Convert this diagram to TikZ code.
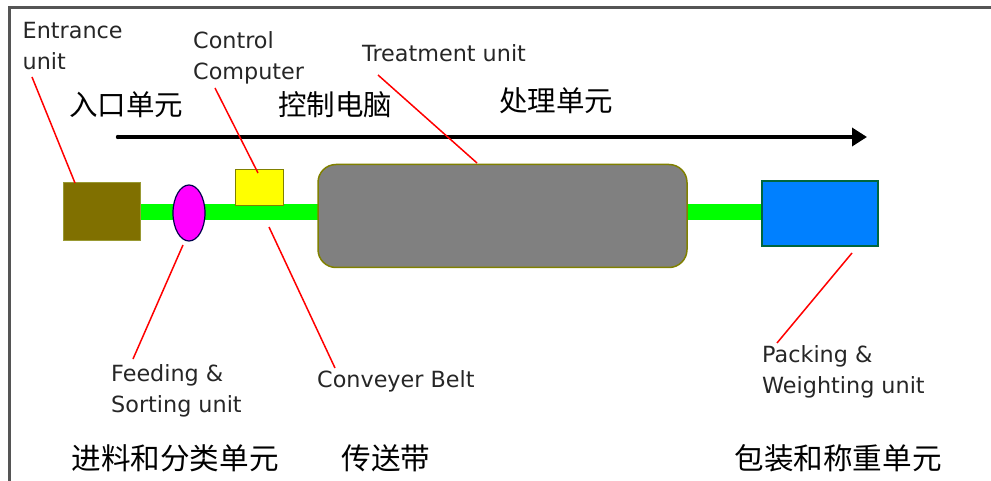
\documentclass[tikz,border=0pt]{standalone}
\usepackage{fontspec}
\setmainfont{DejaVu Sans}
\newfontfamily\cjk{Noto Sans CJK SC}
\usetikzlibrary{arrows.meta,shapes.geometric}
\definecolor{olivebox}{RGB}{128,112,0}
\definecolor{oliveline}{RGB}{128,128,0}
\definecolor{beltgreen}{RGB}{0,255,0}
\definecolor{blueunit}{RGB}{0,128,255}
\definecolor{framegray}{RGB}{85,85,85}
\definecolor{feedpink}{RGB}{255,0,255}
\definecolor{ctrlyellow}{RGB}{255,255,0}
\definecolor{treatgray}{RGB}{128,128,128}
\definecolor{leadred}{RGB}{255,0,0}
\tikzset{
  eng/.style={anchor=base west, inner sep=0pt, align=left, text=black!85,
    font=\fontsize{22.3}{31}\selectfont},
  zh/.style={inner sep=0pt, font=\cjk\fontsize{28.5}{34}\selectfont},
  zhb/.style={inner sep=0pt, font=\cjk\fontsize{29.6}{34}\selectfont},
  leader/.style={leadred, line width=1.5pt},
  belt/.style={fill=beltgreen, draw=none},
}
\begin{document}
\begin{tikzpicture}[x=1pt,y=-1pt]
\useasboundingbox (0,0) rectangle (991,481);
% frame
\draw[framegray, line width=3pt] (9,481) -- (9,7.5) -- (991,7.5);
% process arrow
\coordinate (arrS) at (118,137);
\coordinate (arrE) at (867,137);
\draw[line width=3.5pt, -{Triangle[length=15pt,width=18pt]}] (arrS) -- (arrE);
\fill (arrS) circle (2.2pt);
% belts
\fill[belt] (139,204) rectangle (320,220);
\fill[belt] (686,204) rectangle (763,220);
% units
\node[draw=oliveline!80!white, line width=1pt, fill=olivebox, minimum width=77pt, minimum height=58pt, inner sep=0pt] (entr) at (101.5,212) {};
\node[draw=black!70!blue, line width=1.2pt, fill=feedpink, ellipse, minimum width=32pt, minimum height=56pt, inner sep=0pt] (feed) at (189,213) {};
\node[draw=oliveline, line width=1pt, fill=ctrlyellow, minimum width=48pt, minimum height=36pt, inner sep=0pt] (ctrl) at (259,188) {};
\node[draw=oliveline, line width=1.5pt, fill=treatgray, rounded corners=18pt, minimum width=369pt, minimum height=103pt, inner sep=0pt] (treat) at (502.5,216) {};
\node[draw=black!60!blue!60!green, line width=1.2pt, fill=blueunit, minimum width=116pt, minimum height=65pt, inner sep=0pt] (pack) at (820,213.5) {};
% english labels (base = last line)
\node[eng] (lEntr) at (22.5,70) {Entrance\\unit};
\node[eng] (lCtrl) at (193,80) {Control\\Computer};
\node[eng] (lTreat) at (362,62) {Treatment unit};
\node[eng] (lFeed) at (111,412) {Feeding \&\\Sorting unit};
\node[eng] (lBelt) at (317,387) {Conveyer Belt};
\node[eng] (lPack) at (762,393) {Packing \&\\Weighting unit};
% chinese labels
\node[zh] (zEntr) at (126,105) {入口单元};
\node[zh] (zCtrl) at (335,105) {控制电脑};
\node[zh] (zTreat) at (556,101) {处理单元};
\node[zhb] (zFeed) at (175,458) {进料和分类单元};
\node[zhb] (zBelt) at (386,458) {传送带};
\node[zhb] (zPack) at (838,458) {包装和称重单元};
% leader lines
\coordinate (a1) at (32,77);   \coordinate (b1) at (75,183);
\coordinate (a2) at (215,88);  \coordinate (b2) at (258,173);
\coordinate (a3) at (378,75);  \coordinate (b3) at (477,163);
\coordinate (a4) at (133,359); \coordinate (b4) at (183,245);
\coordinate (a5) at (335,368); \coordinate (b5) at (269,227);
\coordinate (a6) at (777,343); \coordinate (b6) at (852,253);
\draw[leader] (a1) -- (b1);
\draw[leader] (a2) -- (b2);
\draw[leader] (a3) -- (b3);
\draw[leader] (a4) -- (b4);
\draw[leader] (a5) -- (b5);
\draw[leader] (a6) -- (b6);
\end{tikzpicture}
\end{document}
